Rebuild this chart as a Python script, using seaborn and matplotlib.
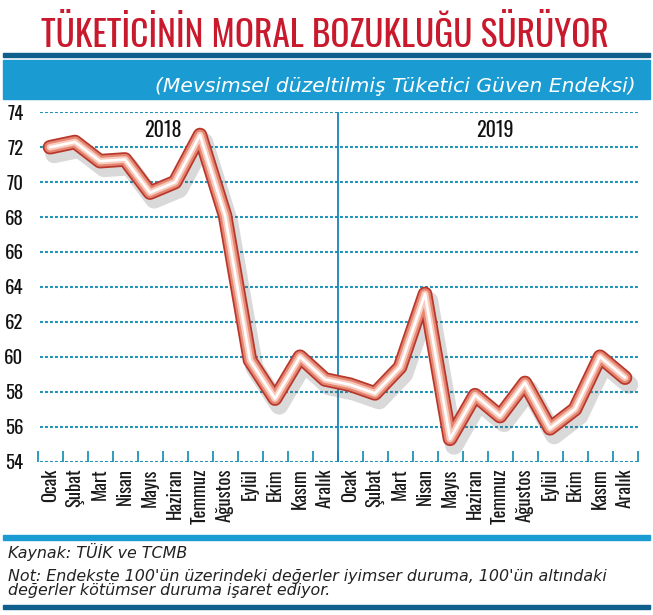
import pandas as pd
import numpy as np
import matplotlib.pyplot as plt
import matplotlib.patheffects as pe
import seaborn as sns

# data
months = ["Ocak", "Şubat", "Mart", "Nisan", "Mayıs", "Haziran", "Temmuz",
          "Ağustos", "Eylül", "Ekim", "Kasım", "Aralık"]
years = ["2018", "2019"]
values_2018 = [72.0, 72.3, 71.2, 71.3, 69.4, 70.0, 72.7, 68.1, 59.8, 57.6, 60.0, 58.7]
values_2019 = [58.4, 57.9, 59.4, 63.6, 55.3, 57.8, 56.6, 58.5, 55.9, 57.0, 60.0, 58.8]
y_ticks = [54, 56, 58, 60, 62, 64, 66, 68, 70, 72, 74]

df = pd.DataFrame({
    "Ay": months * 2,
    "Yil": [years[0]] * 12 + [years[1]] * 12,
    "Endeks": values_2018 + values_2019,
})
df["pos"] = np.arange(len(df))

sns.set_style("white")
cond = ["Oswald", "Roboto Condensed", "DejaVu Sans"]
italic = ["DejaVu Sans"]
plt.rcParams["font.family"] = cond

RED = "#c8192d"
BLUE = "#1a9cd2"
DARKBLUE = "#0f5f8d"
GRID = "#1f93b8"
W, H = 653, 615


def fx(px):
    return px / W


def fy(py):
    return 1 - py / H


fig = plt.figure(figsize=(6.53, 6.15), dpi=100)
ax = fig.add_axes([fx(37.5), fy(461.5), 600 / W, 349.2 / H])

# title + header bands
fig.text(0.497, fy(47), "TÜKETİCİNİN MORAL BOZUKLUĞU SÜRÜYOR", ha="center", va="baseline",
         color=RED, fontsize=25.5, fontweight="medium", family=cond)
fig.patches.append(plt.Rectangle((fx(3), fy(57)), 647 / W, 4 / H,
                                 transform=fig.transFigure, color=DARKBLUE))
fig.patches.append(plt.Rectangle((fx(3), fy(99)), 647 / W, 39 / H,
                                 transform=fig.transFigure, color=BLUE))
fig.text(fx(636), fy(92), "(Mevsimsel düzeltilmiş Tüketici Güven Endeksi)",
         ha="right", va="baseline", color="white", fontsize=14.6, style="italic",
         family=italic)

# footer
fig.patches.append(plt.Rectangle((fx(3), fy(540)), 647 / W, 5 / H,
                                 transform=fig.transFigure, color=BLUE))
fig.patches.append(plt.Rectangle((fx(3), fy(609)), 647 / W, 4 / H,
                                 transform=fig.transFigure, color=DARKBLUE))
fs_foot = 11.4
fig.text(fx(8), fy(558), "Kaynak: TÜİK ve TCMB", ha="left", va="baseline",
         fontsize=fs_foot, style="italic", color="#222222", family=italic)
fig.text(fx(8), fy(581), "Not: Endekste 100'ün üzerindeki değerler iyimser duruma, 100'ün altındaki",
         ha="left", va="baseline", fontsize=fs_foot, style="italic", color="#222222", family=italic)
fig.text(fx(8), fy(595), "değerler kötümser duruma işaret ediyor.",
         ha="left", va="baseline", fontsize=fs_foot, style="italic", color="#222222", family=italic)

# grid
for v in y_ticks:
    ax.axhline(v, color=GRID, lw=1.5, linestyle=(0, (1.4, 1.0)), xmin=0.004, zorder=1)
ax.axvline(11.5, color="#1a82b8", lw=1.3, zorder=1)

# tube-like line with shadow
layers = [(10.5, "#b8372b"), (8, "#e58672"), (4.8, "#f8cbbd"), (1.9, "white")]
for i, (lw, col) in enumerate(layers):
    sns.lineplot(data=df, x="pos", y="Endeks", ax=ax, color=col, lw=lw,
                 solid_joinstyle="round", solid_capstyle="round",
                 zorder=3 + i, legend=False)
ax.lines[-4].set_path_effects([pe.SimpleLineShadow(offset=(3, -5), shadow_color="#555555",
                                                   alpha=0.22, linewidth=13), pe.Normal()])
for ln in ax.lines[-4:]:
    ln.set_clip_on(False)

# year labels
ax.text(4.5, 73.0, years[0], ha="center", va="center", fontsize=14.5,
        fontweight="medium", color="#111111")
ax.text(17.8, 73.0, years[1], ha="center", va="center", fontsize=14.5,
        fontweight="medium", color="#111111")

ax.set_xlim(-0.5, 23.5)
ax.set_ylim(54, 74)
ax.set_xticks(df["pos"])
ax.set_xticklabels(df["Ay"], rotation=90, fontsize=13.5, fontweight="medium", color="#1a1a1a")
ax.set_xticks(np.arange(-0.5, 24, 1), minor=True)
ax.tick_params(axis="x", which="major", length=0, pad=5)
ax.tick_params(axis="x", which="minor", direction="in", length=8, width=1.3,
               color=GRID, bottom=True)
ax.set_yticks(y_ticks)
ax.set_yticklabels([str(v) for v in y_ticks], fontsize=13.5, fontweight="medium",
                   color="#111111")
ax.tick_params(axis="y", length=0, pad=10)
ax.set_xlabel("")
ax.set_ylabel("")
for s in ax.spines.values():
    s.set_visible(False)

fig.savefig("out.png", dpi=100)
